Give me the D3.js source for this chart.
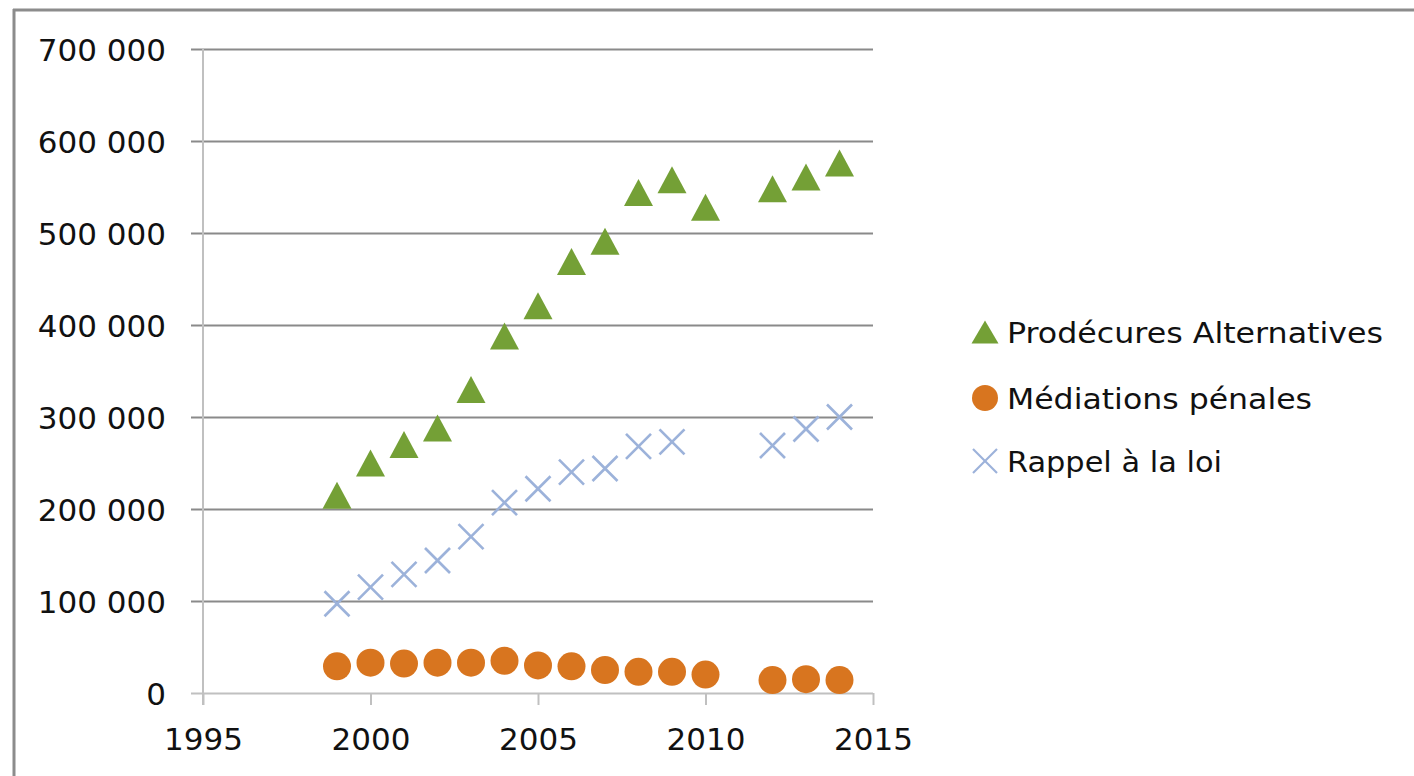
<!DOCTYPE html>
<html>
<head>
<meta charset="utf-8">
<script src="https://cdn.jsdelivr.net/npm/d3@7"></script>
<style>
  html, body { margin: 0; padding: 0; background: #fff; }
  svg { display: block; }
</style>
</head>
<body>
<svg id="chart" width="1414" height="776"></svg>
<script>
// ---- Data ----
const years = [1999, 2000, 2001, 2002, 2003, 2004, 2005, 2006, 2007, 2008, 2009, 2010, 2012, 2013, 2014];
const procedures = [215000, 250000, 270000, 288000, 330000, 388000, 421000, 469000, 491000, 544000, 558000, 528000, 548000, 561000, 576000];
const mediations = [29000, 33000, 32000, 33000, 33000, 35000, 30000, 29000, 25000, 23000, 23000, 20000, 14000, 15000, 14000];
const rappel = [97000, 115000, 129000, 144000, 170000, 207000, 222000, 240000, 244000, 268000, 273000, null, 269000, 287000, 300000];
const yTicks = [0, 100000, 200000, 300000, 400000, 500000, 600000, 700000];
const xTicks = [1995, 2000, 2005, 2010, 2015];
const seriesNames = ["Prodécures Alternatives", "Médiations pénales", "Rappel à la loi"];

// ---- Setup ----
const svg = d3.select("#chart");
const FONT = "DejaVu Sans, Verdana, sans-serif";
const x = d3.scaleLinear().domain([1995, 2015]).range([203, 873]);
const y = d3.scaleLinear().domain([0, 700000]).range([693, 49]);
const fr = d3.formatLocale({ decimal: ",", thousands: "\u00a0", grouping: [3], currency: ["", "€"] });
const fmt = fr.format(",d");

const GREEN = "#74a036", ORANGE = "#d8751f", BLUE = "#9cb2da";
const GRID = "#8a8a8a", AXIS = "#c0c0c0";

// frame
svg.append("line").attr("x1", 14).attr("x2", 14).attr("y1", 9).attr("y2", 776)
  .attr("stroke", "#8c8c8c").attr("stroke-width", 3);
svg.append("line").attr("x1", 13).attr("x2", 1414).attr("y1", 10).attr("y2", 10)
  .attr("stroke", "#8c8c8c").attr("stroke-width", 3);

// y axis with gridlines
const gy = svg.append("g").attr("transform", "translate(191,0)")
  .call(d3.axisLeft(y).tickValues(yTicks).tickFormat(fmt)
    .tickSizeInner(-(873 - 191)).tickSizeOuter(0).tickPadding(25));
gy.select(".domain").remove();
gy.selectAll(".tick line")
  .attr("stroke", d => d === 0 ? AXIS : GRID)
  .attr("stroke-width", 2);
gy.selectAll(".tick text")
  .attr("font-family", FONT).attr("font-size", 31).attr("fill", "#111")
  .attr("dy", "0.36em");

// y axis vertical line
svg.append("line").attr("x1", x(1995)).attr("x2", x(1995))
  .attr("y1", y(700000)).attr("y2", y(0) + 12)
  .attr("stroke", AXIS).attr("stroke-width", 2);

// x axis
const gx = svg.append("g").attr("transform", `translate(0,${y(0)})`)
  .call(d3.axisBottom(x).tickValues(xTicks).tickFormat(d3.format("d"))
    .tickSizeInner(12).tickSizeOuter(0).tickPadding(23));
gx.select(".domain").remove();
gx.selectAll(".tick line").attr("stroke", AXIS).attr("stroke-width", 2);
gx.selectAll(".tick text")
  .attr("font-family", FONT).attr("font-size", 31).attr("fill", "#111");

// marker helpers
function triPath(cx, cy, w, h) {
  return `M${cx},${cy - h / 2}L${cx + w / 2},${cy + h / 2}L${cx - w / 2},${cy + h / 2}Z`;
}
function drawX(g, cx, cy, s, sw) {
  g.append("line").attr("x1", cx - s).attr("y1", cy - s).attr("x2", cx + s).attr("y2", cy + s)
    .attr("stroke", BLUE).attr("stroke-width", sw);
  g.append("line").attr("x1", cx - s).attr("y1", cy + s).attr("x2", cx + s).attr("y2", cy - s)
    .attr("stroke", BLUE).attr("stroke-width", sw);
}

// series: mediations (circles)
const gm = svg.append("g");
years.forEach((yr, i) => {
  if (mediations[i] == null) return;
  gm.append("circle").attr("cx", x(yr)).attr("cy", y(mediations[i])).attr("r", 14).attr("fill", ORANGE);
});

// series: rappel (x)
const gr = svg.append("g");
years.forEach((yr, i) => {
  if (rappel[i] == null) return;
  drawX(gr, x(yr), y(rappel[i]), 12.5, 2.6);
});

// series: procedures (triangles)
const gp = svg.append("g");
years.forEach((yr, i) => {
  if (procedures[i] == null) return;
  gp.append("path").attr("d", triPath(x(yr), y(procedures[i]), 29, 27)).attr("fill", GREEN);
});

// legend
const legend = svg.append("g");
const legY = [332, 398, 461];
const legLen = [376, 305, 215];
legend.append("path").attr("d", triPath(985, legY[0], 27, 23)).attr("fill", GREEN);
legend.append("circle").attr("cx", 985).attr("cy", legY[1]).attr("r", 13).attr("fill", ORANGE);
drawX(legend, 985, legY[2], 12, 2.2);
seriesNames.forEach((name, i) => {
  legend.append("text").attr("x", 1007).attr("y", legY[i] + 10.5)
    .attr("font-family", FONT).attr("font-size", 29).attr("fill", "#111")
    .attr("textLength", legLen[i]).attr("lengthAdjust", "spacingAndGlyphs")
    .text(name);
});
</script>
</body>
</html>
